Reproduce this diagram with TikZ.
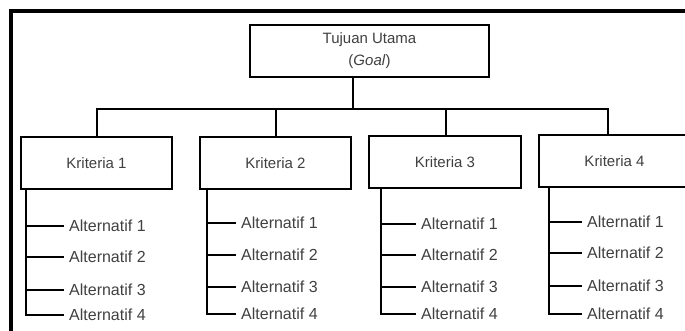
\documentclass[tikz,border=0pt]{standalone}
\usepackage{fontspec}
\setmainfont{Liberation Sans}
\begin{document}
\begin{tikzpicture}[x=1pt,y=-1pt,
  txt/.style={text=black!75, font=\fontsize{15}{22}\selectfont},
  boxnode/.style={draw=black, line width=2pt, fill=white, minimum height=52pt, inner sep=0pt, txt, align=center},
  conn/.style={draw=black, line width=2pt},
  altnode/.style={anchor=west, inner xsep=5pt, inner ysep=0pt, text=black!75, font=\fontsize{16}{20}\selectfont}]
\useasboundingbox (0,0) rectangle (685,331);
\clip (0,0) rectangle (685,331);
% frame
\draw[line width=4pt, line join=miter] (11,333) -- (11,11) -- (690,11);
% goal
\node[boxnode, minimum width=239pt] (goal) at (369.5,51) {Tujuan Utama\\(\textit{Goal})};
% criteria
\node[boxnode, minimum width=151pt] (k1) at (96.5,163) {Kriteria 1};
\node[boxnode, minimum width=151pt] (k2) at (275.5,163) {Kriteria 2};
\node[boxnode, minimum width=152pt] (k3) at (445,162) {Kriteria 3};
\node[boxnode, minimum width=151pt] (k4) at (614.5,161.5) {Kriteria 4};
% bus
\coordinate (g0) at (353,77);
\coordinate (b0) at (353,109);
\coordinate (b1) at (97,109);
\coordinate (b2) at (276,109);
\coordinate (b3) at (446,109);
\coordinate (b4) at (608,109);
\draw[conn] (g0) -- (b0);
\draw[conn, line join=miter] (b1 |- k1.north) -- (b1) -- (b4) -- (b4 |- k4.north);
\draw[conn] (b2) -- (b2 |- k2.north);
\draw[conn] (b3) -- (b3 |- k3.north);
% alternatives
\foreach \k/\tx/\bx/\ya/\yb/\yc/\yd in {1/26/64/226/257/290/315, 2/207/236/223/255/287/314, 3/381/416/224/255/287/314, 4/549/582/222/253/286/314}{
  \node[altnode] (a\k1) at (\bx,\ya) {Alternatif 1};
  \node[altnode] (a\k2) at (\bx,\yb) {Alternatif 2};
  \node[altnode] (a\k3) at (\bx,\yc) {Alternatif 3};
  \node[altnode] (a\k4) at (\bx,\yd) {Alternatif 4};
  \coordinate (t\k) at (\tx,0);
  \draw[conn, line join=miter] (t\k |- k\k.south) |- (a\k4.west);
  \draw[conn] (t\k |- a\k1.west) -- (a\k1.west);
  \draw[conn] (t\k |- a\k2.west) -- (a\k2.west);
  \draw[conn] (t\k |- a\k3.west) -- (a\k3.west);
}
\end{tikzpicture}
\end{document}
